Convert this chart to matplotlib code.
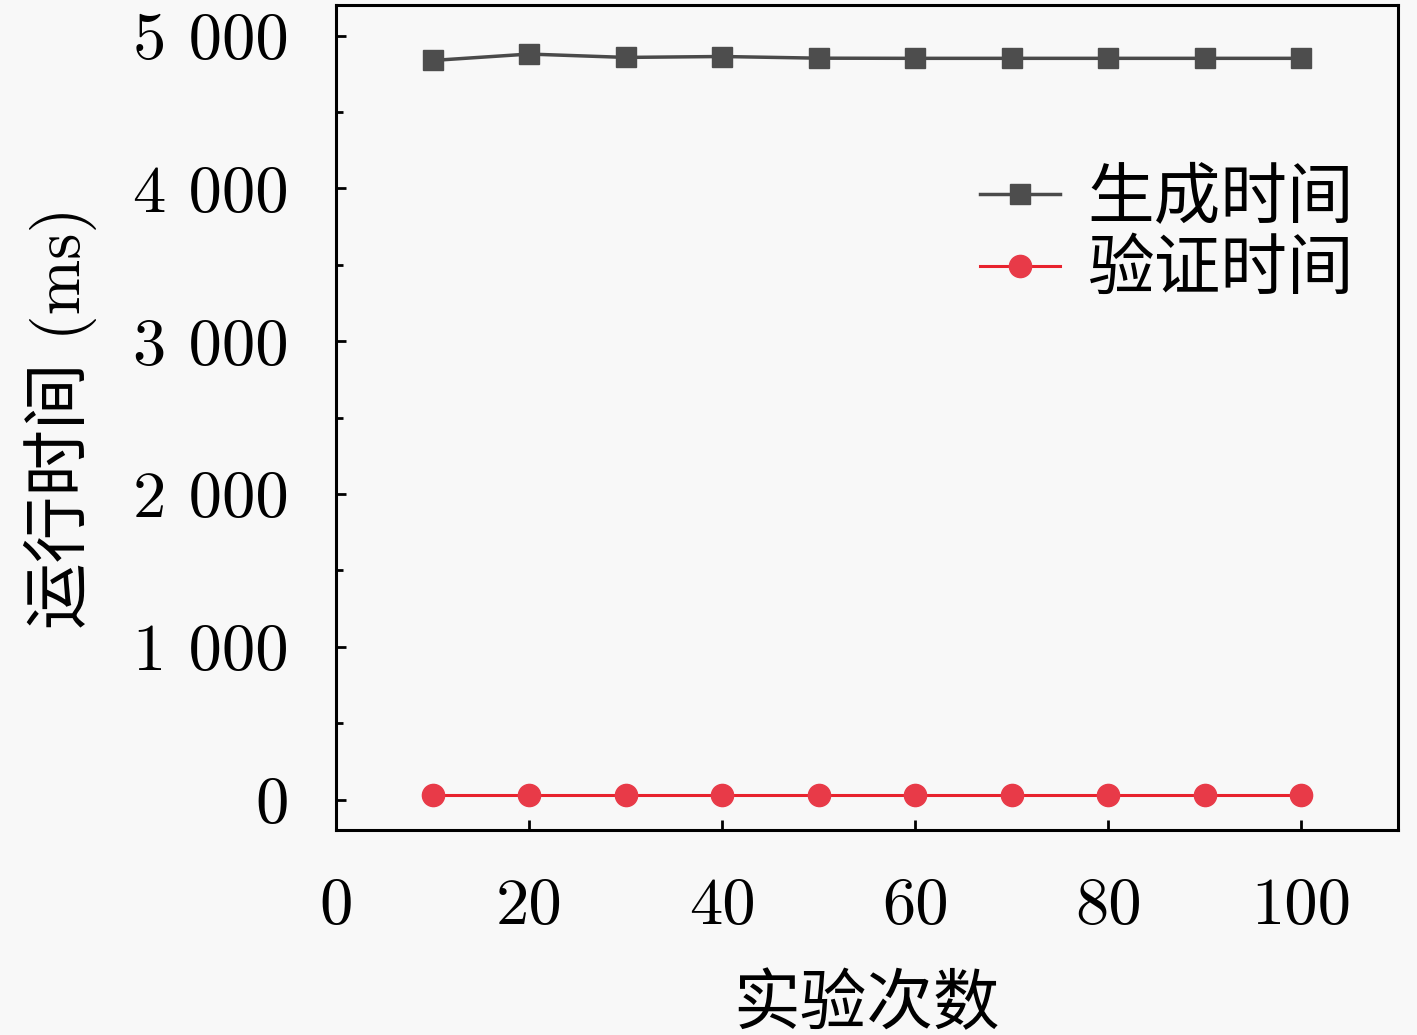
import matplotlib
matplotlib.use("Agg")
import matplotlib.pyplot as plt
from matplotlib.ticker import FixedLocator, MultipleLocator

plt.rcParams['font.family'] = ['cmr10', 'Noto Sans CJK SC', 'DejaVu Serif']
plt.rcParams['axes.unicode_minus'] = False

# data
runs = [10, 20, 30, 40, 50, 60, 70, 80, 90, 100]
gen_time = [4838, 4880, 4858, 4864, 4853, 4852, 4852, 4852, 4852, 4852]
verify_time = [30, 30, 30, 30, 30, 30, 30, 30, 30, 30]

x_ticks = [0, 20, 40, 60, 80, 100]
y_ticks = [0, 1000, 2000, 3000, 4000, 5000]
y_tick_labels = ["0", "1 000", "2 000", "3 000", "4 000", "5 000"]

fig = plt.figure(figsize=(14.17, 10.35), dpi=100, facecolor='#f8f8f8')
ax = fig.add_axes([0.2371, 0.198, 0.7495, 0.797])
ax.set_facecolor('#f8f8f8')

ax.plot(runs, gen_time, color='#4a4a4a', lw=2.5, marker='s', ms=14,
        mfc='#4d4d4d', mec='#4d4d4d', label='生成时间')
ax.plot(runs, verify_time, color='#e8232e', lw=2.2, marker='o', ms=16,
        mfc='#e83a48', mec='#e83a48', label='验证时间')

ax.set_xlim(0, 110)
ax.set_ylim(-200, 5200)
ax.xaxis.set_major_locator(FixedLocator(x_ticks))
ax.set_yticks(y_ticks)
ax.set_yticklabels(y_tick_labels)
ax.yaxis.set_minor_locator(MultipleLocator(500))

for s in ax.spines.values():
    s.set_linewidth(2.2)
ax.tick_params(axis='both', which='major', direction='in', length=7, width=2,
               labelsize=48, top=False, right=False)
ax.tick_params(axis='y', which='major', pad=34)
ax.tick_params(axis='x', which='major', pad=34)
ax.tick_params(axis='y', which='minor', direction='in', length=5, width=2)

ax.set_xlabel('实验次数', fontsize=48, labelpad=27)
ax.set_ylabel('运行时间 (ms)', fontsize=48, labelpad=26)

ax.legend(loc='upper left', bbox_to_anchor=(0.606, 0.802), frameon=False,
          fontsize=48, handlelength=1.2, handletextpad=0.42, labelspacing=0.15,
          borderaxespad=0, borderpad=0)

fig.savefig('out.png', dpi=100, facecolor=fig.get_facecolor())
